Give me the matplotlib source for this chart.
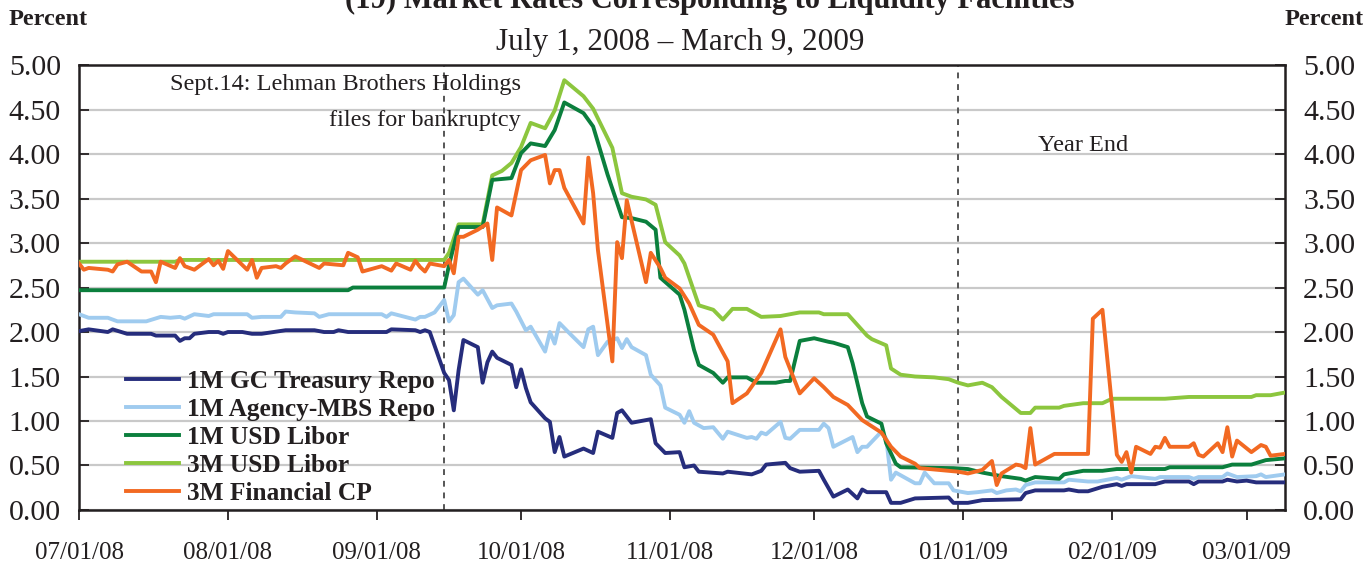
import pandas as pd
import matplotlib
matplotlib.use("Agg")
import matplotlib.pyplot as plt
import matplotlib.dates as mdates

# values (percent)
gc_dates = ["2008-07-01", "2008-07-03", "2008-07-07", "2008-07-08", "2008-07-11", "2008-07-16", "2008-07-17",
            "2008-07-21", "2008-07-22", "2008-07-23", "2008-07-24", "2008-07-25", "2008-07-28", "2008-07-30",
            "2008-07-31", "2008-08-01", "2008-08-04", "2008-08-06", "2008-08-08", "2008-08-13", "2008-08-19",
            "2008-08-21", "2008-08-23", "2008-08-24", "2008-08-26", "2008-09-03", "2008-09-04", "2008-09-09",
            "2008-09-10", "2008-09-11", "2008-09-12", "2008-09-15", "2008-09-16", "2008-09-17", "2008-09-18",
            "2008-09-19", "2008-09-22", "2008-09-23", "2008-09-24", "2008-09-25", "2008-09-26", "2008-09-29",
            "2008-09-30", "2008-10-01", "2008-10-02", "2008-10-03", "2008-10-06", "2008-10-07", "2008-10-08",
            "2008-10-09", "2008-10-10", "2008-10-14", "2008-10-16", "2008-10-17", "2008-10-20", "2008-10-21",
            "2008-10-22", "2008-10-24", "2008-10-28", "2008-10-29", "2008-10-31", "2008-11-03", "2008-11-04",
            "2008-11-06", "2008-11-07", "2008-11-12", "2008-11-13", "2008-11-18", "2008-11-20", "2008-11-21",
            "2008-11-25", "2008-11-26", "2008-11-28", "2008-12-02", "2008-12-03", "2008-12-05", "2008-12-08",
            "2008-12-10", "2008-12-11", "2008-12-12", "2008-12-16", "2008-12-17", "2008-12-19", "2008-12-22",
            "2008-12-29", "2008-12-30", "2009-01-02", "2009-01-05", "2009-01-13", "2009-01-14", "2009-01-16",
            "2009-01-22", "2009-01-23", "2009-01-25", "2009-01-27", "2009-01-30", "2009-02-02", "2009-02-03",
            "2009-02-04", "2009-02-10", "2009-02-12", "2009-02-17", "2009-02-18", "2009-02-19", "2009-02-24",
            "2009-02-25", "2009-02-27", "2009-03-01", "2009-03-03", "2009-03-09"]
gc_repo = [2.01, 2.03, 2.00, 2.03, 1.98, 1.98, 1.96,
           1.96, 1.90, 1.93, 1.93, 1.98, 2.00, 2.00,
           1.98, 2.00, 2.00, 1.98, 1.98, 2.02, 2.02,
           2.00, 2.00, 2.02, 2.00, 2.00, 2.03, 2.02,
           2.00, 2.02, 2.00, 1.54, 1.46, 1.12, 1.57,
           1.91, 1.83, 1.43, 1.66, 1.78, 1.71, 1.63,
           1.38, 1.58, 1.37, 1.21, 1.03, 0.99, 0.65,
           0.82, 0.60, 0.69, 0.64, 0.88, 0.81, 1.09,
           1.12, 0.98, 1.02, 0.75, 0.64, 0.65, 0.48,
           0.50, 0.43, 0.41, 0.43, 0.40, 0.44, 0.51,
           0.53, 0.47, 0.43, 0.44, 0.34, 0.15, 0.23,
           0.13, 0.23, 0.20, 0.20, 0.08, 0.08, 0.13,
           0.14, 0.08, 0.08, 0.11, 0.12, 0.19, 0.22,
           0.22, 0.23, 0.21, 0.21, 0.26, 0.29, 0.27,
           0.29, 0.29, 0.32, 0.32, 0.29, 0.32, 0.32,
           0.34, 0.32, 0.33, 0.31, 0.31]

mbs_dates = ["2008-07-01", "2008-07-03", "2008-07-07", "2008-07-09", "2008-07-15", "2008-07-18", "2008-07-20",
             "2008-07-22", "2008-07-23", "2008-07-25", "2008-07-28", "2008-07-29", "2008-08-05", "2008-08-06",
             "2008-08-08", "2008-08-12", "2008-08-13", "2008-08-15", "2008-08-19", "2008-08-20", "2008-08-22",
             "2008-09-02", "2008-09-03", "2008-09-04", "2008-09-09", "2008-09-10", "2008-09-11", "2008-09-13",
             "2008-09-15", "2008-09-16", "2008-09-17", "2008-09-18", "2008-09-19", "2008-09-22", "2008-09-23",
             "2008-09-25", "2008-09-26", "2008-09-29", "2008-09-30", "2008-10-02", "2008-10-03", "2008-10-06",
             "2008-10-07", "2008-10-08", "2008-10-09", "2008-10-11", "2008-10-14", "2008-10-15", "2008-10-16",
             "2008-10-17", "2008-10-19", "2008-10-21", "2008-10-22", "2008-10-23", "2008-10-24", "2008-10-27",
             "2008-10-28", "2008-10-30", "2008-10-31", "2008-11-03", "2008-11-04", "2008-11-05", "2008-11-06",
             "2008-11-08", "2008-11-10", "2008-11-12", "2008-11-13", "2008-11-17", "2008-11-18", "2008-11-19",
             "2008-11-20", "2008-11-21", "2008-11-24", "2008-11-25", "2008-11-26", "2008-11-28", "2008-12-02",
             "2008-12-03", "2008-12-04", "2008-12-05", "2008-12-09", "2008-12-10", "2008-12-11", "2008-12-12",
             "2008-12-15", "2008-12-16", "2008-12-17", "2008-12-18", "2008-12-22", "2008-12-23", "2008-12-24",
             "2008-12-26", "2008-12-29", "2008-12-30", "2009-01-02", "2009-01-04", "2009-01-07", "2009-01-08",
             "2009-01-10", "2009-01-12", "2009-01-13", "2009-01-14", "2009-01-16", "2009-01-22", "2009-01-23",
             "2009-01-27", "2009-01-29", "2009-02-02", "2009-02-03", "2009-02-05", "2009-02-10", "2009-02-11",
             "2009-02-17", "2009-02-18", "2009-02-19", "2009-02-24", "2009-02-25", "2009-02-27", "2009-03-03",
             "2009-03-04", "2009-03-05", "2009-03-09"]
mbs_repo = [2.20, 2.16, 2.16, 2.12, 2.12, 2.17, 2.16,
            2.17, 2.15, 2.20, 2.18, 2.20, 2.20, 2.16,
            2.17, 2.17, 2.23, 2.22, 2.21, 2.17, 2.20,
            2.20, 2.17, 2.21, 2.14, 2.17, 2.17, 2.22,
            2.36, 2.12, 2.19, 2.56, 2.60, 2.42, 2.47,
            2.27, 2.30, 2.32, 2.23, 2.02, 2.06, 1.78,
            2.00, 1.87, 2.10, 1.99, 1.83, 2.03, 2.06,
            1.74, 1.89, 1.93, 1.82, 1.92, 1.83, 1.74,
            1.52, 1.40, 1.15, 1.07, 0.98, 1.11, 0.98,
            0.92, 0.93, 0.80, 0.88, 0.81, 0.82, 0.80,
            0.87, 0.85, 0.99, 0.81, 0.80, 0.90, 0.90,
            0.97, 0.92, 0.71, 0.82, 0.65, 0.71, 0.71,
            0.88, 0.80, 0.34, 0.42, 0.30, 0.30, 0.42,
            0.30, 0.30, 0.22, 0.19, 0.20, 0.22, 0.19,
            0.22, 0.23, 0.21, 0.28, 0.31, 0.31, 0.34,
            0.32, 0.32, 0.36, 0.34, 0.38, 0.35, 0.37,
            0.37, 0.35, 0.37, 0.37, 0.41, 0.37, 0.38,
            0.40, 0.37, 0.40]

libor1m_dates = ["2008-07-01", "2008-08-26", "2008-08-27", "2008-09-15", "2008-09-16", "2008-09-18", "2008-09-23",
                 "2008-09-25", "2008-09-29", "2008-10-01", "2008-10-03", "2008-10-06", "2008-10-08", "2008-10-10",
                 "2008-10-14", "2008-10-16", "2008-10-19", "2008-10-22", "2008-10-24", "2008-10-27", "2008-10-29",
                 "2008-10-30", "2008-11-03", "2008-11-04", "2008-11-06", "2008-11-07", "2008-11-10", "2008-11-12",
                 "2008-11-13", "2008-11-17", "2008-11-19", "2008-11-23", "2008-11-25", "2008-11-26", "2008-11-28",
                 "2008-12-01", "2008-12-04", "2008-12-05", "2008-12-08", "2008-12-09", "2008-12-11", "2008-12-12",
                 "2008-12-15", "2008-12-16", "2008-12-18", "2008-12-19", "2008-12-30", "2009-01-02", "2009-01-05",
                 "2009-01-09", "2009-01-13", "2009-01-14", "2009-01-16", "2009-01-21", "2009-01-22", "2009-01-26",
                 "2009-01-30", "2009-02-02", "2009-02-12", "2009-02-13", "2009-02-24", "2009-02-26", "2009-03-02",
                 "2009-03-05", "2009-03-09"]
libor1m = [2.47, 2.47, 2.50, 2.50, 2.75, 3.18, 3.18,
           3.71, 3.73, 4.01, 4.12, 4.09, 4.27, 4.58,
           4.46, 4.31, 3.77, 3.29, 3.28, 3.24, 3.15,
           2.61, 2.42, 2.25, 1.80, 1.63, 1.54, 1.43,
           1.49, 1.49, 1.43, 1.43, 1.45, 1.45, 1.90,
           1.93, 1.89, 1.88, 1.83, 1.65, 1.20, 1.05,
           0.97, 0.75, 0.52, 0.48, 0.47, 0.46, 0.42,
           0.38, 0.35, 0.33, 0.37, 0.35, 0.40, 0.44,
           0.44, 0.46, 0.46, 0.48, 0.48, 0.51, 0.51,
           0.56, 0.58]

libor3m_dates = ["2008-07-01", "2008-07-21", "2008-07-22", "2008-09-15", "2008-09-16", "2008-09-18", "2008-09-23",
                 "2008-09-25", "2008-09-27", "2008-09-29", "2008-10-01", "2008-10-03", "2008-10-06", "2008-10-08",
                 "2008-10-10", "2008-10-14", "2008-10-16", "2008-10-20", "2008-10-22", "2008-10-24", "2008-10-27",
                 "2008-10-29", "2008-10-31", "2008-11-03", "2008-11-04", "2008-11-07", "2008-11-10", "2008-11-12",
                 "2008-11-14", "2008-11-17", "2008-11-20", "2008-11-24", "2008-11-28", "2008-12-02", "2008-12-03",
                 "2008-12-08", "2008-12-09", "2008-12-12", "2008-12-13", "2008-12-16", "2008-12-17", "2008-12-19",
                 "2008-12-22", "2008-12-26", "2008-12-29", "2008-12-31", "2009-01-02", "2009-01-05", "2009-01-07",
                 "2009-01-09", "2009-01-11", "2009-01-13", "2009-01-15", "2009-01-16", "2009-01-21", "2009-01-22",
                 "2009-01-26", "2009-01-30", "2009-02-01", "2009-02-12", "2009-02-17", "2009-03-02", "2009-03-03",
                 "2009-03-06", "2009-03-09"]
libor3m = [2.79, 2.79, 2.81, 2.81, 2.89, 3.21, 3.21,
           3.76, 3.81, 3.90, 4.08, 4.35, 4.29, 4.49,
           4.83, 4.65, 4.51, 4.07, 3.56, 3.52, 3.49,
           3.43, 3.01, 2.86, 2.77, 2.30, 2.25, 2.14,
           2.26, 2.26, 2.17, 2.18, 2.22, 2.22, 2.20,
           2.20, 2.14, 1.96, 1.92, 1.85, 1.59, 1.52,
           1.50, 1.49, 1.47, 1.43, 1.40, 1.43, 1.38,
           1.27, 1.18, 1.09, 1.09, 1.15, 1.15, 1.17,
           1.20, 1.20, 1.25, 1.25, 1.27, 1.27, 1.29,
           1.29, 1.32]

cp_dates = ["2008-07-01", "2008-07-02", "2008-07-03", "2008-07-07", "2008-07-08", "2008-07-09", "2008-07-11",
            "2008-07-14", "2008-07-16", "2008-07-17", "2008-07-18", "2008-07-21", "2008-07-22", "2008-07-23",
            "2008-07-25", "2008-07-28", "2008-07-29", "2008-07-30", "2008-07-31", "2008-08-01", "2008-08-05",
            "2008-08-06", "2008-08-07", "2008-08-08", "2008-08-11", "2008-08-12", "2008-08-13", "2008-08-15",
            "2008-08-20", "2008-08-21", "2008-08-25", "2008-08-26", "2008-08-28", "2008-08-29", "2008-09-02",
            "2008-09-04", "2008-09-05", "2008-09-08", "2008-09-09", "2008-09-10", "2008-09-11", "2008-09-12",
            "2008-09-15", "2008-09-16", "2008-09-17", "2008-09-18", "2008-09-19", "2008-09-22", "2008-09-24",
            "2008-09-25", "2008-09-26", "2008-09-29", "2008-10-01", "2008-10-03", "2008-10-06", "2008-10-07",
            "2008-10-08", "2008-10-09", "2008-10-10", "2008-10-14", "2008-10-15", "2008-10-16", "2008-10-17",
            "2008-10-20", "2008-10-21", "2008-10-22", "2008-10-23", "2008-10-27", "2008-10-28", "2008-10-30",
            "2008-10-31", "2008-11-03", "2008-11-05", "2008-11-07", "2008-11-10", "2008-11-13", "2008-11-14",
            "2008-11-17", "2008-11-20", "2008-11-24", "2008-11-25", "2008-11-28", "2008-12-01", "2008-12-03",
            "2008-12-05", "2008-12-08", "2008-12-11", "2008-12-13", "2008-12-15", "2008-12-17", "2008-12-19",
            "2008-12-22", "2008-12-23", "2008-12-31", "2009-01-02", "2009-01-05", "2009-01-07", "2009-01-08",
            "2009-01-09", "2009-01-12", "2009-01-13", "2009-01-14", "2009-01-15", "2009-01-16", "2009-01-20",
            "2009-01-27", "2009-01-28", "2009-01-30", "2009-02-02", "2009-02-03", "2009-02-04", "2009-02-05",
            "2009-02-06", "2009-02-09", "2009-02-10", "2009-02-11", "2009-02-12", "2009-02-13", "2009-02-17",
            "2009-02-18", "2009-02-19", "2009-02-20", "2009-02-23", "2009-02-24", "2009-02-25", "2009-02-26",
            "2009-02-27", "2009-03-02", "2009-03-04", "2009-03-05", "2009-03-06", "2009-03-09"]
fin_cp = [2.77, 2.70, 2.72, 2.70, 2.68, 2.76, 2.79,
          2.68, 2.68, 2.56, 2.79, 2.72, 2.83, 2.74,
          2.70, 2.82, 2.75, 2.80, 2.71, 2.91, 2.70,
          2.81, 2.61, 2.72, 2.74, 2.72, 2.77, 2.85,
          2.72, 2.77, 2.75, 2.89, 2.84, 2.68, 2.74,
          2.69, 2.77, 2.70, 2.80, 2.73, 2.68, 2.77,
          2.74, 2.81, 2.66, 3.07, 3.07, 3.15, 3.22,
          2.81, 3.40, 3.31, 3.82, 3.93, 3.99, 3.67,
          3.82, 3.82, 3.62, 3.22, 3.96, 3.56, 2.92,
          1.67, 3.01, 2.83, 3.48, 2.56, 2.89, 2.72,
          2.61, 2.49, 2.32, 2.08, 1.97, 1.67, 1.20,
          1.31, 1.54, 2.03, 1.72, 1.31, 1.48, 1.38,
          1.27, 1.18, 1.01, 0.94, 0.87, 0.71, 0.60,
          0.52, 0.47, 0.43, 0.41, 0.45, 0.55, 0.28,
          0.41, 0.51, 0.50, 0.47, 0.92, 0.51, 0.63,
          0.63, 2.15, 2.25, 0.62, 0.54, 0.65, 0.42,
          0.71, 0.63, 0.71, 0.70, 0.81, 0.71, 0.71,
          0.75, 0.62, 0.60, 0.75, 0.65, 0.93, 0.60,
          0.78, 0.65, 0.73, 0.71, 0.61, 0.63]

series_names = ["1M GC Treasury Repo", "1M Agency-MBS Repo", "1M USD Libor", "3M USD Libor", "3M Financial CP"]
colors = ["#262d7c", "#9fcbef", "#0b7f3d", "#8cc63e", "#f26922"]

lehman_day = "2008-09-15"
year_end = "2008-12-31"
month_ticks = ["2008-07-01", "2008-08-01", "2008-09-01", "2008-10-01", "2008-11-01",
               "2008-12-01", "2009-01-01", "2009-02-01", "2009-03-01"]

plt.rcParams['font.family'] = ['Liberation Serif', 'DejaVu Serif']
ink = '#231f20'

fig = plt.figure(figsize=(13.72, 5.66), dpi=100)
ax = fig.add_axes([0.0576, 0.099, 0.879, 0.786])

data = [(gc_dates, gc_repo), (mbs_dates, mbs_repo), (libor1m_dates, libor1m),
        (libor3m_dates, libor3m), (cp_dates, fin_cp)]
# draw order: repo lines under libor/cp as in the original
order = [1, 0, 3, 2, 4]
lines = {}
for i in order:
    d, v = data[i]
    ln, = ax.plot(pd.to_datetime(d), v, color=colors[i], lw=2.8, label=series_names[i], zorder=3)
    lines[i] = ln

ax.set_xlim(pd.Timestamp("2008-07-01"), pd.Timestamp("2009-03-09"))
ax.set_ylim(0, 5)
ax.set_yticks([i * 0.5 for i in range(11)])
ax.yaxis.set_major_formatter(matplotlib.ticker.FormatStrFormatter('%.2f'))
ax.grid(axis='y', color='#c9c9c9', lw=1.6, zorder=0)
ax.set_axisbelow(True)

ax.set_xticks(pd.to_datetime(month_ticks))
ax.xaxis.set_major_formatter(mdates.DateFormatter('%m/%d/%y'))

ax.tick_params(axis='y', direction='in', length=7, width=1.3, labelsize=21.5,
               left=True, right=True, labelleft=True, labelright=True, pad=13, colors=ink)
ax.tick_params(axis='x', direction='out', length=7, width=1.3, labelsize=18, pad=16, colors=ink)
for s in ax.spines.values():
    s.set_linewidth(1.8)
    s.set_color(ink)

for day in [lehman_day, year_end]:
    ax.axvline(pd.Timestamp(day), color='#555555', lw=1.4, ls=(0, (3, 3)), zorder=2)

ax.text(pd.Timestamp("2008-10-01"), 4.78, "Sept.14: Lehman Brothers Holdings", ha='right', va='center',
        fontsize=17.5, color=ink)
ax.text(pd.Timestamp("2008-10-01"), 4.38, "files for bankruptcy", ha='right', va='center',
        fontsize=17.5, color=ink)
ax.text(pd.Timestamp("2009-01-26"), 4.10, "Year End", ha='center', va='center', fontsize=17.5, color=ink)

leg = ax.legend([lines[i] for i in range(5)], series_names, loc='lower left',
                bbox_to_anchor=(0.02, -0.04), frameon=False, handlelength=2.1, handletextpad=0.3,
                labelspacing=0.2, prop={'family': 'Liberation Serif', 'weight': 'bold', 'size': 18.3})
for t in leg.get_texts():
    t.set_color(ink)
leg.set_zorder(5)

fig.text(0.517, 0.985, "(19) Market Rates Corresponding to Liquidity Facilities", ha='center', va='baseline',
         fontsize=22, fontweight='bold', color=ink)
fig.text(0.496, 0.912, "July 1, 2008 \u2013 March 9, 2009", ha='center', va='baseline', fontsize=22.5,
         color=ink)
fig.text(0.006, 0.955, "Percent", ha='left', va='baseline', fontsize=17.5, fontweight='bold', color=ink)
fig.text(0.994, 0.955, "Percent", ha='right', va='baseline', fontsize=17.5, fontweight='bold', color=ink)

fig.savefig("out.png", dpi=100)
